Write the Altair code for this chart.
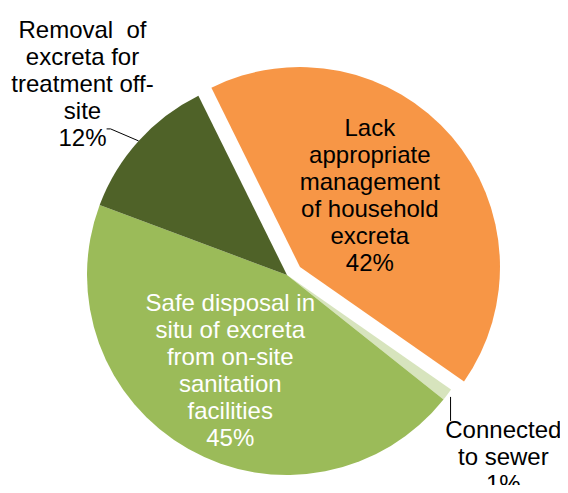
import math
import altair as alt
import pandas as pd

# ---- data -------------------------------------------------------------
categories = [
    "Lack appropriate management of household excreta",
    "Connected to sewer",
    "Safe disposal in situ of excreta from on-site sanitation facilities",
    "Removal of excreta for treatment off-site",
]
shares = [42, 1, 45, 12]
label_names = [
    "Lack\nappropriate\nmanagement\nof household\nexcreta",
    "Connected\nto sewer",
    "Safe disposal in\nsitu of excreta\nfrom on-site\nsanitation\nfacilities",
    "Removal\u00a0 of\nexcreta for\ntreatment off-\nsite",
]
colors = ["#F79646", "#D7E4BD", "#9BBB59", "#4F6228"]

# ---- layout -----------------------------------------------------------
W, H = 552, 477
CX, CY = 279, 267          # pie centre (plot coordinates)
R = 200
EX, EY = 13, -8            # explosion offset of first slice
START = 2 * math.pi - math.radians(26.3)
FONT = "Liberation Sans"
FS = 24
LH = 27

df = pd.DataFrame({
    "category": categories,
    "share": shares,
    "name": label_names,
    "order": list(range(len(categories))),
})

base = (
    alt.Chart(df)
    .transform_window(cum="sum(share)", sort=[alt.SortField("order")], frame=[None, 0])
    .transform_calculate(
        start="datum.cum - datum.share",
        mid="datum.cum - datum.share / 2",
        label="datum.name + '\\n' + datum.share + '%'",
    )
)

theta_scale = alt.Scale(domain=[0, 100], range=[START, START + 2 * math.pi])
color = alt.Color("category:N", scale=alt.Scale(domain=categories, range=colors), legend=None)

arcs = base.transform_filter(alt.datum.order > 0).mark_arc(
    outerRadius=R, x=CX, y=CY
).encode(
    theta=alt.Theta("start:Q", scale=theta_scale, stack=False),
    theta2="cum:Q",
    color=color,
)

exploded = base.transform_filter(alt.datum.order == 0).mark_arc(
    outerRadius=R, x=CX + EX, y=CY + EY
).encode(
    theta=alt.Theta("start:Q", scale=theta_scale, stack=False),
    theta2="cum:Q",
    color=color,
)


def label_layer(i, r, dx, dy, col, cx, cy):
    return base.transform_filter(alt.datum.order == i).mark_text(
        radius=r, x=cx, y=cy, dx=dx, dy=dy, font=FONT, fontSize=FS,
        lineHeight=LH, lineBreak="\n", align="center", baseline="middle", color=col,
    ).encode(
        theta=alt.Theta("mid:Q", scale=theta_scale, stack=False),
        text="label:N",
    )


labels = [
    label_layer(0, 100, -6, -73, "black", CX + EX, CY + EY),
    label_layer(1, 286, -13, -15, "black", CX, CY),
    label_layer(2, 103, -6, -61, "white", CX, CY),
    label_layer(3, 281, 4, -56, "black", CX, CY),
]

ang = f"{START} + datum.mid / 100 * 2 * PI"

removal_pts = base.transform_filter(alt.datum.order == 3).transform_calculate(
    ang=ang,
    px=f"{CX} + {R} * sin(datum.ang)",
    py=f"{CY} - {R} * cos(datum.ang)",
    qx="datum.px - 28",
    qy="datum.py - 12",
    sx="datum.qx - 4",
)
lead1 = removal_pts.mark_rule(color="black", strokeWidth=1).encode(
    x=alt.X("px:Q", scale=None), y=alt.Y("py:Q", scale=None), x2="qx:Q", y2="qy:Q"
)
lead2 = removal_pts.mark_rule(color="black", strokeWidth=1).encode(
    x=alt.X("qx:Q", scale=None), y=alt.Y("qy:Q", scale=None), x2="sx:Q", y2="qy:Q"
)

sewer_pts = base.transform_filter(alt.datum.order == 1).transform_calculate(
    ang=ang,
    px=f"{CX} + {R + 4} * sin(datum.ang)",
    py=f"{CY} - {R + 4} * cos(datum.ang)",
    qy="datum.py + 24",
)
lead3 = sewer_pts.mark_rule(color="black", strokeWidth=1).encode(
    x=alt.X("px:Q", scale=None), y=alt.Y("py:Q", scale=None), y2="qy:Q"
)

chart = alt.layer(arcs, exploded, lead1, lead2, lead3, *labels).properties(
    width=W, height=H, autosize="none", padding=0, background="white"
).configure_view(stroke=None)

chart.save("out.html", embed_options={"renderer": "svg", "actions": False})
